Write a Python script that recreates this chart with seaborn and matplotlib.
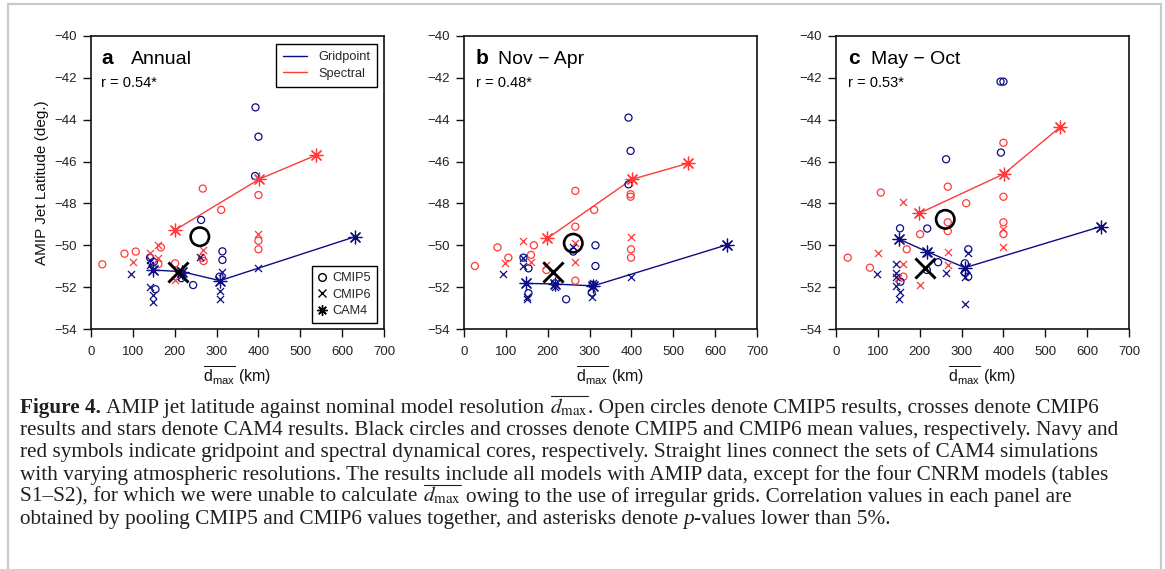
import matplotlib
matplotlib.use("Agg")
import matplotlib.pyplot as plt
import seaborn as sns
from matplotlib.lines import Line2D

# ---------------- data (km, deg) ----------------
# Panel a: Annual
a_c5_grid_x = [393, 400, 392, 263, 314, 314, 141, 150, 154, 244, 307, 216, 218]
a_c5_grid_y = [-43.41, -44.81, -46.69, -48.79, -50.29, -50.70, -50.59, -50.80, -52.10, -51.90, -51.50, -51.57, -51.35]
a_c5_spec_x = [27, 80, 107, 167, 161, 201, 267, 265, 269, 311, 400, 400, 400]
a_c5_spec_y = [-50.91, -50.40, -50.30, -50.10, -50.90, -50.86, -47.29, -50.60, -50.75, -48.31, -47.60, -49.78, -50.19]
a_c6_grid_x = [95, 141, 141, 141, 149, 149, 260, 307, 307, 314, 400, 213, 215]
a_c6_grid_y = [-51.39, -50.70, -50.94, -51.97, -52.37, -52.69, -50.54, -52.20, -52.58, -51.26, -51.10, -51.20, -51.45]
a_c6_spec_x = [100, 141, 161, 161, 201, 267, 400]
a_c6_spec_y = [-50.81, -50.38, -49.98, -50.62, -51.66, -50.22, -49.47]
a_cam_grid_x = [147, 217, 308, 631]
a_cam_grid_y = [-51.18, -51.26, -51.69, -49.59]
a_cam_spec_x = [201, 401, 537]
a_cam_spec_y = [-49.27, -46.85, -45.70]
a_mean_c5 = [260, -49.59]
a_mean_c6 = [209, -51.26]

# Panel b: Nov - Apr
b_c5_grid_x = [393, 398, 393, 261, 314, 314, 142, 154, 154, 244, 217, 307, 305]
b_c5_grid_y = [-43.90, -45.49, -47.09, -50.30, -50.00, -50.99, -50.59, -51.10, -52.29, -52.58, -51.82, -51.90, -52.26]
b_c5_spec_x = [26, 80, 106, 160, 167, 266, 266, 266, 311, 398, 398, 399, 399, 197]
b_c5_spec_y = [-50.99, -50.10, -50.59, -50.46, -50.00, -47.40, -49.11, -51.69, -48.31, -47.56, -47.68, -50.19, -50.59, -51.18]
b_c6_grid_x = [94, 142, 142, 150, 150, 261, 217, 305, 307, 400]
b_c6_grid_y = [-51.39, -50.62, -50.99, -52.45, -52.58, -50.06, -51.97, -52.45, -51.82, -51.50]
b_c6_spec_x = [98, 142, 160, 197, 266, 266, 400]
b_c6_spec_y = [-50.86, -49.78, -50.78, -50.94, -49.90, -50.78, -49.59]
b_cam_grid_x = [148, 217, 309, 628]
b_cam_grid_y = [-51.82, -51.85, -51.94, -49.98]
b_cam_spec_x = [199, 401, 536]
b_cam_spec_y = [-49.67, -46.85, -46.08]
b_mean_c5 = [261, -49.90]
b_mean_c6 = [212, -51.26]

# Panel c: May - Oct
c_c5_grid_x = [393, 400, 394, 263, 218, 153, 244, 316, 308, 308, 316, 217, 154]
c_c5_grid_y = [-42.18, -42.18, -45.57, -45.89, -49.20, -49.19, -50.81, -50.19, -50.86, -51.31, -51.50, -51.18, -51.74]
c_c5_spec_x = [28, 81, 107, 169, 161, 201, 267, 267, 267, 311, 400, 400, 400, 400]
c_c5_spec_y = [-50.59, -51.07, -47.48, -50.19, -51.50, -49.47, -47.20, -48.90, -49.32, -47.99, -45.10, -47.68, -48.90, -49.46]
c_c6_grid_x = [97, 143, 143, 143, 143, 153, 150, 218, 263, 307, 307, 316]
c_c6_grid_y = [-51.39, -50.91, -51.31, -51.50, -51.94, -52.21, -52.58, -50.38, -51.31, -51.50, -52.80, -50.38]
c_c6_spec_x = [101, 161, 161, 147, 201, 267, 267, 400, 400]
c_c6_spec_y = [-50.38, -47.91, -50.91, -51.58, -51.89, -50.30, -50.94, -49.22, -50.10]
c_cam_grid_x = [150, 217, 308, 632]
c_cam_grid_y = [-49.70, -50.30, -51.07, -49.11]
c_cam_spec_x = [199, 401, 535]
c_cam_spec_y = [-48.47, -46.59, -44.36]
c_mean_c5 = [261, -48.76]
c_mean_c6 = [213, -51.10]

panel_letters = ["a", "b", "c"]
panel_titles = ["Annual", "Nov \u2212 Apr", "May \u2212 Oct"]
panel_r = ["r = 0.54*", "r = 0.48*", "r = 0.53*"]
x_ticks = [0, 100, 200, 300, 400, 500, 600, 700]
y_ticks = [-54, -52, -50, -48, -46, -44, -42, -40]
core_labels = ["Gridpoint", "Spectral"]
set_labels = ["CMIP5", "CMIP6", "CAM4"]

DMAX = r"$d_{\mathrm{max}}$"
caption_lines = [
    [("Figure 4.", "bold", False),
     ("AMIP jet latitude against nominal model resolution", "reg", True),
     (DMAX, "dmax", True),
     (". Open circles denote CMIP5 results, crosses denote CMIP6", "reg", False)],
    [("results and stars denote CAM4 results. Black circles and crosses denote CMIP5 and CMIP6 mean values, respectively. Navy and", "reg", False)],
    [("red symbols indicate gridpoint and spectral dynamical cores, respectively. Straight lines connect the sets of CAM4 simulations", "reg", False)],
    [("with varying atmospheric resolutions. The results include all models with AMIP data, except for the four CNRM models (tables", "reg", False)],
    [("S1\u2013S2), for which we were unable to calculate", "reg", False),
     (DMAX, "dmax", True),
     ("owing to the use of irregular grids. Correlation values in each panel are", "reg", True)],
    [("obtained by pooling CMIP5 and CMIP6 values together, and asterisks denote", "reg", False),
     ("p", "italic", True),
     ("-values lower than 5%.", "reg", False)],
]

# ---------------- style ----------------
sns.set_style("ticks")
plt.rcParams["font.family"] = ["Liberation Sans", "DejaVu Sans"]
plt.rcParams["mathtext.fontset"] = "custom"
plt.rcParams["mathtext.rm"] = "Liberation Sans"
plt.rcParams["mathtext.it"] = "Liberation Sans:italic"
plt.rcParams["mathtext.bf"] = "Liberation Sans:bold"
plt.rcParams["axes.unicode_minus"] = True

NAVY = "#0c0c85"
RED = "#ff3a3a"
INK = "#111111"
CAP_COLOR = "#231f20"
CAP_FONT = ["Liberation Serif", "DejaVu Serif"]
W, H = 1165, 569

fig = plt.figure(figsize=(W / 100, H / 100), dpi=100)
fig.patch.set_facecolor("white")

# light grey frame around the figure
frame_kw = dict(color="#c9c9c9", lw=1.6, transform=fig.transFigure)
fig.add_artist(Line2D([8 / W, 8 / W], [0, 1 - 4 / H], **frame_kw))
fig.add_artist(Line2D([8 / W, 1161 / W], [1 - 4 / H, 1 - 4 / H], **frame_kw))
fig.add_artist(Line2D([1161 / W, 1161 / W], [0, 1 - 4 / H], **frame_kw))

lefts = [91, 464, 836]
panels = [
    (a_c5_grid_x, a_c5_grid_y, a_c5_spec_x, a_c5_spec_y, a_c6_grid_x, a_c6_grid_y, a_c6_spec_x, a_c6_spec_y,
     a_cam_grid_x, a_cam_grid_y, a_cam_spec_x, a_cam_spec_y, a_mean_c5, a_mean_c6),
    (b_c5_grid_x, b_c5_grid_y, b_c5_spec_x, b_c5_spec_y, b_c6_grid_x, b_c6_grid_y, b_c6_spec_x, b_c6_spec_y,
     b_cam_grid_x, b_cam_grid_y, b_cam_spec_x, b_cam_spec_y, b_mean_c5, b_mean_c6),
    (c_c5_grid_x, c_c5_grid_y, c_c5_spec_x, c_c5_spec_y, c_c6_grid_x, c_c6_grid_y, c_c6_spec_x, c_c6_spec_y,
     c_cam_grid_x, c_cam_grid_y, c_cam_spec_x, c_cam_spec_y, c_mean_c5, c_mean_c6),
]
AST = (8, 2, 0)


def scat(ax, xs, ys, marker, color, s, lw, z=3, open_=False):
    sns.scatterplot(x=xs, y=ys, ax=ax, marker=marker, color=color, s=s,
                    linewidth=lw, legend=False, zorder=z)
    coll = ax.collections[-1]
    coll.set_edgecolor(color)
    coll.set_linewidth(lw)
    if open_:
        coll.set_facecolor("none")


for i, (left, data) in enumerate(zip(lefts, panels)):
    (c5gx, c5gy, c5sx, c5sy, c6gx, c6gy, c6sx, c6sy,
     cgx, cgy, csx, csy, m5, m6) = data
    ax = fig.add_axes([left / W, 1 - 329 / H, 293 / W, 293 / H])
    ax.set_facecolor("white")

    sns.lineplot(x=cgx, y=cgy, ax=ax, color=NAVY, linewidth=1.0, legend=False, zorder=2)
    sns.lineplot(x=csx, y=csy, ax=ax, color=RED, linewidth=1.0, legend=False, zorder=2)

    scat(ax, c5sx, c5sy, "o", RED, 26, 0.9, open_=True)
    scat(ax, c5gx, c5gy, "o", NAVY, 26, 0.9, open_=True)
    scat(ax, c6sx, c6sy, "x", RED, 26, 0.9)
    scat(ax, c6gx, c6gy, "x", NAVY, 26, 0.9)
    scat(ax, cgx, cgy, AST, NAVY, 85, 0.9)
    scat(ax, csx, csy, AST, RED, 85, 0.9)
    scat(ax, [m5[0]], [m5[1]], "o", "black", 175, 1.9, z=5, open_=True)
    scat(ax, [m6[0]], [m6[1]], "x", "black", 210, 2.1, z=5)

    ax.set_xlim(0, 700)
    ax.set_ylim(-54, -40)
    ax.set_xticks(x_ticks)
    ax.set_yticks(y_ticks)
    ax.set_yticklabels([f"\u2212{abs(v)}" for v in y_ticks])
    ax.tick_params(axis="both", direction="out", length=6, width=1.0, colors=INK,
                   labelsize=9.5, labelcolor="#222222")
    ax.tick_params(axis="x", pad=6.5)
    ax.tick_params(axis="y", pad=4)
    for sp in ax.spines.values():
        sp.set_visible(True)
        sp.set_color(INK)
        sp.set_linewidth(1.2)

    ax.set_xlabel(r"$\overline{\mathrm{d}_{\mathrm{max}}}$ (km)", fontsize=11.5, labelpad=4, color="#111111")
    if i == 0:
        ax.set_ylabel("AMIP Jet Latitude (deg.)", fontsize=11, labelpad=4, color="#111111")
    else:
        ax.set_ylabel("")

    # panel letter / title / r value
    lx = [101, 476, 848][i]
    tx = [131, 498, 871][i]
    ax.text((lx - left) / 293, (329 - 64) / 293, panel_letters[i], transform=ax.transAxes,
            fontsize=15, fontweight="bold", va="baseline", ha="left", color="black")
    ax.text((tx - left) / 293, (329 - 64) / 293, panel_titles[i], transform=ax.transAxes,
            fontsize=14, va="baseline", ha="left", color="black")
    ax.text((lx - left) / 293, (329 - 87) / 293, panel_r[i], transform=ax.transAxes,
            fontsize=10.5, va="baseline", ha="left", color="black")

    if i == 0:
        h1 = [Line2D([], [], color=NAVY, lw=1), Line2D([], [], color=RED, lw=1)]
        leg1 = ax.legend(h1, core_labels, loc="upper right",
                         bbox_to_anchor=(1 - 7 / 293, 1 - 8 / 293), borderaxespad=0,
                         frameon=True, fancybox=False, edgecolor="black", framealpha=1,
                         fontsize=9.2, handlelength=1.9, handletextpad=0.85,
                         borderpad=0.55, labelspacing=0.35)
        leg1.get_frame().set_linewidth(1.0)
        ax.add_artist(leg1)
        h2 = [Line2D([], [], ls="none", marker="o", mfc="none", mec="black", ms=5.5, mew=1),
              Line2D([], [], ls="none", marker="x", color="black", ms=5.5, mew=1),
              Line2D([], [], ls="none", marker=AST, color="black", ms=7.5, mew=1)]
        leg2 = ax.legend(h2, set_labels, loc="lower right",
                         bbox_to_anchor=(1 - 7 / 293, 6 / 293), borderaxespad=0,
                         frameon=True, fancybox=False, edgecolor="black", framealpha=1,
                         fontsize=9.2, handlelength=0.6, handletextpad=0.55,
                         borderpad=0.47, labelspacing=0.35)
        leg2.get_frame().set_linewidth(1.0)

# ---------------- caption ----------------
renderer = fig.canvas.get_renderer()


def draw_line(x0, yb, pieces, fs):
    arts = []
    t1 = fig.text(0, 0, "a a", fontsize=fs, family=CAP_FONT)
    t2 = fig.text(0, 0, "aa", fontsize=fs, family=CAP_FONT)
    space_w = t1.get_window_extent(renderer).width - t2.get_window_extent(renderer).width
    t1.remove(); t2.remove()
    fs_px = fs * 100 / 72
    x = x0
    for txt, style, gap in pieces:
        if gap:
            x += space_w
        kw = dict(fontsize=fs, color=CAP_COLOR, va="baseline", ha="left", family=CAP_FONT)
        if style == "bold":
            kw["fontweight"] = "bold"
        if style == "italic":
            kw["fontstyle"] = "italic"
        t = fig.text(x / W, 1 - yb / H, txt, **kw)
        if style == "dmax":
            t.set_math_fontfamily("stix")
        arts.append(t)
        bb = t.get_window_extent(renderer)
        if style == "dmax":
            ybar = (H - yb + 0.78 * fs_px) / H
            ln = Line2D([(bb.x0 + 1) / W, (bb.x1 + 0.5) / W], [ybar, ybar],
                        color=CAP_COLOR, lw=0.8, transform=fig.transFigure)
            fig.add_artist(ln)
            arts.append(ln)
        x += bb.width
    return arts, x


test_fs = 12.0
arts, xend = draw_line(20, 413, caption_lines[0], test_fs)
for a in arts:
    a.remove()
cap_fs = 0.97 * test_fs * (1131 - 20) / (xend - 20)
for k, line in enumerate(caption_lines):
    draw_line(20, 413 + 22.2 * k, line, cap_fs)

fig.savefig("out.png", dpi=100, facecolor="white")
